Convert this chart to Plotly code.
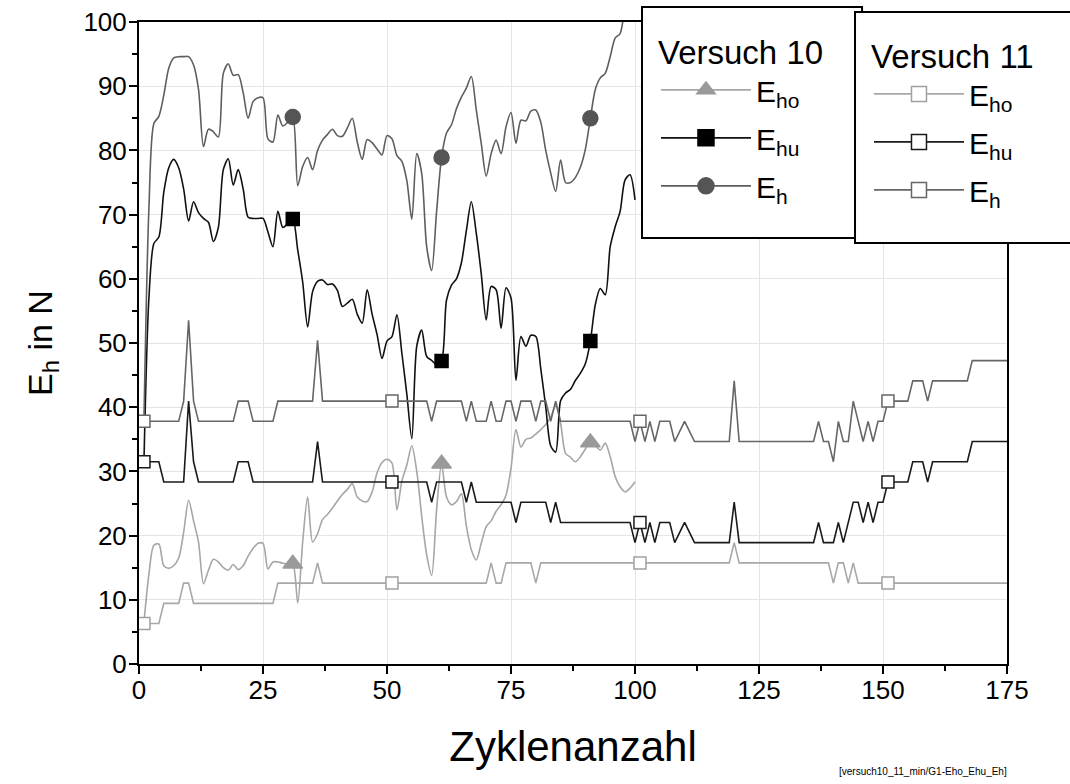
import plotly.graph_objects as go

# ---------------- data ----------------
cycles_v10 = list(range(1, 101))

v10_eho = [6.5, 14.0, 18.5, 18.7, 15.3, 14.9, 15.3, 16.5, 20.5, 25.5,
           22.3, 19.0, 12.5, 14.6, 16.3, 15.9, 15.0, 14.6, 15.5, 14.7,
           15.3, 16.8, 18.0, 18.8, 18.8, 14.8, 15.9, 15.9, 15.7, 15.6,
           15.6, 9.5, 19.0, 26.0, 19.0, 20.3, 22.5, 23.3, 24.3, 25.4,
           26.4, 27.2, 28.1, 26.0, 25.4, 25.3, 26.8, 29.8, 31.4, 31.9,
           31.3, 24.0, 28.5, 31.0, 34.0, 30.0, 23.0, 17.0, 13.8, 24.0,
           31.2, 26.0, 24.8, 25.3, 26.5, 21.5, 17.8, 16.2, 18.8, 21.4,
           22.3, 23.8, 24.8, 26.3, 30.5, 36.5, 33.8, 35.0, 35.2, 35.8,
           36.5, 37.3, 38.5, 40.2, 37.5, 32.8, 32.2, 31.5, 32.3, 33.5,
           34.5, 34.0, 33.3, 34.4, 32.3, 29.2, 27.6, 26.8, 27.4, 28.4]

v10_ehu = [31.5, 57.0, 65.5, 66.5, 73.5, 77.3, 78.6, 77.3, 74.0, 69.0,
           72.0, 70.3, 69.4, 68.8, 65.8, 68.0, 77.0, 78.7, 74.6, 77.0,
           74.0, 69.6, 69.4, 69.4, 69.4, 67.3, 65.0, 70.5, 68.0, 68.6,
           69.3, 64.5, 59.5, 52.5, 58.0, 59.6, 59.8, 59.1, 59.2, 58.2,
           55.7, 56.2, 56.8, 54.5, 53.1, 58.3, 54.5, 51.3, 47.6, 50.3,
           51.0, 54.4, 48.4, 42.0, 35.1, 49.5, 52.0, 47.9, 47.3, 46.6,
           47.2, 56.7, 59.0, 60.0, 62.5, 67.5, 72.0, 67.1, 60.8, 53.6,
           58.8, 58.3, 52.3, 58.6, 57.0, 44.2, 51.0, 49.5, 51.2, 51.0,
           46.0, 40.1, 34.0, 33.0, 41.0, 42.2, 42.8, 44.2, 45.3, 46.8,
           50.3, 56.0, 58.5, 57.5, 65.0, 68.1, 70.5, 75.4, 76.2, 72.3]

v10_eh = [38.0, 71.0, 84.2, 85.3, 88.6, 92.8, 94.4, 94.6, 94.6, 94.6,
          93.3, 89.5, 80.6, 83.3, 82.9, 82.1, 92.0, 93.5, 91.7, 91.8,
          89.0, 85.0, 87.6, 88.2, 88.2, 81.8, 81.3, 85.5, 83.8, 84.4,
          85.2, 74.5, 77.5, 78.9, 77.0, 80.0, 81.6, 82.5, 83.3, 82.3,
          82.2, 83.5, 85.0, 81.3, 78.6, 81.7, 81.2, 80.2, 79.3, 82.3,
          81.8, 79.2, 78.3, 75.3, 69.3, 79.5, 76.4, 65.0, 61.3, 70.5,
          78.9, 82.7, 84.0, 86.5, 88.3, 89.7, 91.5, 86.3, 81.1, 76.0,
          79.5, 81.6, 79.5, 83.7, 85.9, 81.1, 84.7, 84.6, 86.1, 86.3,
          84.4, 80.0, 76.5, 73.6, 78.5, 75.0, 75.0, 75.8, 77.4, 80.2,
          85.0, 89.5, 91.3, 92.0, 94.6, 97.5, 98.2, 102.0, 103.5, 100.7]

v11_eho_x = [1, 4, 5, 8, 9, 10, 11, 27, 28, 35, 36, 37, 51, 70, 71, 72, 73, 74, 79, 80,
             81, 101, 119, 120, 121, 139, 140, 141, 142, 143, 144, 145, 151, 175]
v11_eho = [6.3, 6.3, 9.45, 9.45, 12.6, 12.6, 9.45, 9.45, 12.6, 12.6,
           15.75, 12.6, 12.6, 12.6, 15.75, 12.6, 12.6, 15.75, 15.75, 12.6,
           15.75, 15.75, 15.75, 18.9, 15.75, 15.75, 12.6, 15.75, 15.75, 12.6,
           15.75, 12.6, 12.6, 12.6]

v11_ehu_x = [1, 4, 5, 9, 10, 11, 12, 19, 20, 22, 23, 35, 36, 37, 51, 58, 59, 60, 65, 66,
             67, 68, 75, 76, 77, 82, 83, 84, 85, 99, 100, 101, 102, 103, 104, 105, 107, 108, 110, 112,
             119, 120, 121, 136, 137, 138, 140, 141, 142, 144, 145, 146, 147, 148, 149, 150, 151, 155, 156, 158,
             159, 160, 167, 168, 175]
v11_ehu = [31.5, 31.5, 28.35, 28.35, 40.95, 31.5, 28.35, 28.35, 31.5, 31.5,
           28.35, 28.35, 34.65, 28.35, 28.35, 28.35, 25.2, 28.35, 28.35, 25.2,
           28.35, 25.2, 25.2, 22.05, 25.2, 25.2, 22.05, 25.2, 22.05, 22.05,
           18.9, 22.05, 18.9, 22.05, 18.9, 22.05, 22.05, 18.9, 22.05, 18.9,
           18.9, 25.2, 18.9, 18.9, 22.05, 18.9, 18.9, 22.05, 18.9, 25.2,
           25.2, 22.05, 25.2, 22.05, 25.2, 25.2, 28.35, 28.35, 31.5, 31.5,
           28.35, 31.5, 31.5, 34.65, 34.65]

v11_eh_x = [1, 8, 9, 10, 11, 12, 19, 20, 22, 23, 27, 28, 35, 36, 37, 51, 58, 59, 60, 65,
            66, 67, 68, 70, 71, 72, 73, 74, 75, 76, 77, 79, 80, 81, 82, 83, 84, 85, 99, 100,
            101, 102, 103, 104, 105, 107, 108, 110, 112, 119, 120, 121, 136, 137, 138, 139, 140, 141, 142, 143,
            144, 145, 146, 147, 148, 149, 150, 151, 155, 156, 158, 159, 160, 167, 168, 175]
v11_eh = [37.8, 37.8, 40.95, 53.55, 40.95, 37.8, 37.8, 40.95, 40.95, 37.8,
          37.8, 40.95, 40.95, 50.4, 40.95, 40.95, 40.95, 37.8, 40.95, 40.95,
          37.8, 40.95, 37.8, 37.8, 40.95, 37.8, 37.8, 40.95, 40.95, 37.8,
          40.95, 40.95, 37.8, 40.95, 40.95, 37.8, 40.95, 37.8, 37.8, 34.65,
          37.8, 34.65, 37.8, 34.65, 37.8, 37.8, 34.65, 37.8, 34.65, 34.65,
          44.1, 34.65, 34.65, 37.8, 34.65, 34.65, 31.5, 37.8, 34.65, 34.65,
          40.95, 37.8, 34.65, 37.8, 34.65, 37.8, 37.8, 40.95, 40.95, 44.1,
          44.1, 40.95, 44.1, 44.1, 47.25, 47.25]

marker_cycles_v10 = [31, 61, 91]
marker_cycles_v11 = [1, 51, 101, 151]

x_ticks = [0, 25, 50, 75, 100, 125, 150, 175]
y_ticks = [0, 10, 20, 30, 40, 50, 60, 70, 80, 90, 100]

FONT = "Liberation Sans, Arial, sans-serif"

fig = go.Figure()

series = [
    # (x, y, line colour, shape, marker cycles, symbol, size, legend size, fill, edge, legend, name)
    (cycles_v10, v10_eho, "#a6a6a6", "spline", marker_cycles_v10, "triangle-up", 17, 20, "#9a9a9a", "#9a9a9a", "legend", "E<sub>ho</sub>"),
    (cycles_v10, v10_ehu, "#111111", "spline", marker_cycles_v10, "square", 13, 16, "#000000", "#000000", "legend", "E<sub>hu</sub>"),
    (cycles_v10, v10_eh, "#5e5e5e", "spline", marker_cycles_v10, "circle", 15, 18, "#555555", "#555555", "legend", "E<sub>h</sub>"),
    (v11_eho_x, v11_eho, "#a8a8a8", "linear", marker_cycles_v11, "square", 12, 15, "#ffffff", "#a0a0a0", "legend2", "E<sub>ho</sub>"),
    (v11_ehu_x, v11_ehu, "#1a1a1a", "linear", marker_cycles_v11, "square", 12, 15, "#ffffff", "#1a1a1a", "legend2", "E<sub>hu</sub>"),
    (v11_eh_x, v11_eh, "#666666", "linear", marker_cycles_v11, "square", 12, 15, "#ffffff", "#666666", "legend2", "E<sub>h</sub>"),
]

for x, y, col, shp, mc, sym, ms, lms, fill, edge, lg, name in series:
    fig.add_trace(go.Scatter(x=x, y=y, mode="lines",
                             line=dict(color=col, width=1.6, shape=shp, smoothing=0.8),
                             showlegend=False, hoverinfo="skip"))

for x, y, col, shp, mc, sym, ms, lms, fill, edge, lg, name in series:
    my = [y[x.index(c)] for c in mc]
    fig.add_trace(go.Scatter(x=mc, y=my, mode="markers",
                             marker=dict(symbol=sym, size=ms, color=fill,
                                         line=dict(color=edge, width=1.5)),
                             showlegend=False, hoverinfo="skip"))

for i, (x, y, col, shp, mc, sym, ms, lms, fill, edge, lg, name) in enumerate(series):
    fig.add_trace(go.Scatter(x=[None], y=[None], mode="lines+markers", name=name,
                             line=dict(color=col, width=1.6),
                             marker=dict(symbol=sym, size=lms, color=fill,
                                         line=dict(color=edge, width=1.5)),
                             legend=lg, legendgroup="g%d" % i, showlegend=True))

axis_common = dict(showline=True, linecolor="black", linewidth=2, mirror=True,
                   ticks="outside", ticklen=8, tickwidth=2, tickcolor="black",
                   showgrid=True, gridcolor="#e4e4e4", gridwidth=1, zeroline=False,
                   tickfont=dict(family=FONT, size=26, color="black"))

fig.update_xaxes(range=[0, 175], tickvals=x_ticks, ticklabelstandoff=-6,
                 minor=dict(dtick=12.5, ticks="outside", ticklen=5, tickwidth=2, tickcolor="black", showgrid=False),
                 title=dict(text="Zyklenanzahl", font=dict(family=FONT, size=42, color="black"), standoff=27),
                 **axis_common)
fig.update_yaxes(range=[0, 100], tickvals=y_ticks, ticklabelstandoff=-3,
                 minor=dict(dtick=5, ticks="outside", ticklen=5, tickwidth=2, tickcolor="black", showgrid=False),
                 title=dict(text="E<sub>h</sub> in N", font=dict(family=FONT, size=34, color="black"), standoff=21),
                 **axis_common)

legend_common = dict(xanchor="left", yanchor="top", bgcolor="rgba(0,0,0,0)",
                     borderwidth=0, font=dict(family=FONT, size=30, color="black"),
                     itemwidth=90, traceorder="grouped", tracegroupgap=6,
                     itemclick=False, itemdoubleclick=False)

box_line = dict(color="black", width=2)
shapes = [
    dict(type="rect", xref="paper", yref="paper", x0=0.5795, x1=0.833, y0=0.6636, y1=1.0234,
         fillcolor="white", line=box_line, layer="above"),
    dict(type="rect", xref="paper", yref="paper", x0=0.8249, x1=1.09, y0=0.6558, y1=1.0156,
         fillcolor="white", line=box_line, layer="above"),
]

fig.update_layout(
    width=1070, height=784,
    margin=dict(l=139, r=63, t=22, b=120, autoexpand=False),
    paper_bgcolor="white", plot_bgcolor="white",
    font=dict(family=FONT, color="black"),
    shapes=shapes,
    legend=dict(x=0.5956, y=1.0016, title=dict(text="Versuch 10", font=dict(family=FONT, size=33)), **legend_common),
    legend2=dict(x=0.841, y=0.9953, title=dict(text="Versuch 11", font=dict(family=FONT, size=33)), **legend_common),
    annotations=[dict(text="[versuch10_11_min/G1-Eho_Ehu_Eh]", xref="paper", yref="paper",
                      x=0.903, y=-0.168, xanchor="center", yanchor="middle", showarrow=False,
                      font=dict(family=FONT, size=10, color="black"))],
)

fig.write_html("out.html")
